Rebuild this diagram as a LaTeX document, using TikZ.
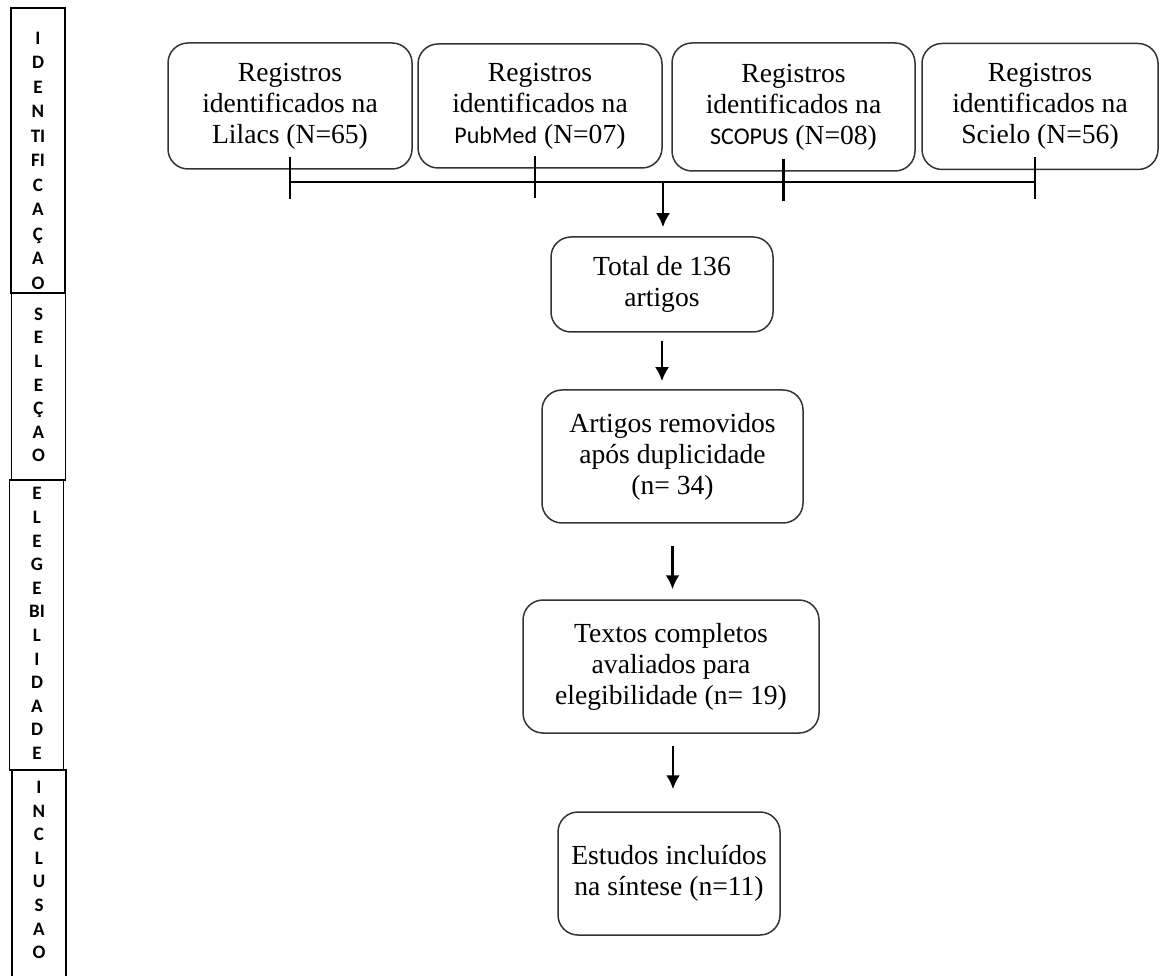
\documentclass[tikz,border=0pt]{standalone}
\usepackage{fontspec}
\setmainfont{Liberation Serif}
\setsansfont{Carlito}
\usetikzlibrary{arrows,arrows.meta,shapes,positioning,calc}
\newcommand{\dbname}[1]{{\sffamily\fontsize{12}{15.5}\selectfont #1}}

\begin{document}
\begin{tikzpicture}[x=0.5pt,y=0.5pt,
  box/.style={rectangle,draw=black!80,rounded corners=10pt,line width=0.75pt,align=center,font=\fontsize{13.8}{15.5}\selectfont},
  side/.style={rectangle,draw,line width=0.9pt,minimum width=27pt},
  sidetxt/.style={align=center,inner sep=0pt,font=\sffamily\bfseries\fontsize{9.5}{11.8}\selectfont},
  flow/.style={-{Latex[length=7pt,width=7pt]},line width=1.3pt},
  bus/.style={line width=1.2pt}]
\useasboundingbox (0,0) rectangle (1160,975);
\clip (0,0) rectangle (1160,975);

% phases on the left
\node[side,minimum height=142.5pt] (sid1) at (38,824.5) {};
\node[side,minimum height=93.5pt] (sid2) at (38.5,588.5) {};
\node[side,minimum height=145pt] (sid3) at (36.5,350) {};
\node[side,minimum height=107.5pt] (sid4) at (39,97.5) {};
\node[sidetxt,font=\sffamily\bfseries\fontsize{9.5}{12.25}\selectfont] (sidtxt1) at (38,814.5) {I\\D\\E\\N\\TI\\FI\\C\\A\\Ç\\A\\O};
\node[sidetxt] (sidtxt2) at (38.5,590) {S\\E\\L\\E\\Ç\\A\\O};
\node[sidetxt] (sidtxt3) at (37,351.5) {E\\L\\E\\G\\E\\BI\\L\\I\\D\\A\\D\\E};
\node[sidetxt] (sidtxt4) at (39,105) {I\\N\\C\\L\\U\\S\\A\\O};

% databases
\node[box,minimum width=122pt,minimum height=63pt] (lil) at (290,869) {Registros\\identificados na\\Lilacs (N=65)};
\node[box,minimum width=122pt,minimum height=62pt] (pub) at (540,869) {Registros\\identificados na\\\dbname{PubMed} (N=07)};
\node[box,minimum width=121.5pt,minimum height=64pt] (sco) at (793.5,868) {Registros\\identificados na\\\dbname{SCOPUS} (N=08)};
\node[box,minimum width=118pt,minimum height=63pt] (sci) at (1040,868.5) {Registros\\identificados na\\Scielo (N=56)};

% flow
\node[box,minimum width=111pt,minimum height=47.5pt] (tot) at (662,690.5) {Total de 136\\artigos};
\node[box,minimum width=130.5pt,minimum height=66.5pt] (dup) at (672.5,518.5) {Artigos removidos\\após duplicidade\\(n= 34)};
\node[box,minimum width=148pt,minimum height=66.5pt] (txt) at (671,308.5) {Textos completos\\avaliados para\\elegibilidade (n= 19)};
\node[box,minimum width=111pt,minimum height=61.5pt] (inc) at (669,101.5) {Estudos incluídos\\na síntese (n=11)};

% joining line
\coordinate (busw) at (290,793);
\coordinate (buse) at (1035,793);
\coordinate (busm) at (663,793);
\draw[bus] (busw) -- (buse);
\draw[bus] (lil.south) ++(0,13) -- ++(0,-42);
\draw[bus] (pub.south) ++(-5,13) -- ++(0,-42);
\draw[bus] (sco.south) ++(-10,13) -- ++(0,-42);
\draw[bus] (sci.south) ++(-5,13) -- ++(0,-42);

\draw[flow,shorten >=4.5pt] (busm) -- (busm |- tot.north);
\draw[flow,shorten <=4pt,shorten >=4pt] (tot.south) -- (tot.south |- dup.north);
\draw[flow,shorten <=11pt,shorten >=5pt] (dup.south) -- (dup.south |- txt.north);
\draw[flow,shorten <=6pt,shorten >=11pt] ($(txt.south)+(2,0)$) -- ($(inc.north)+(4,0)$);

\end{tikzpicture}
\end{document}
